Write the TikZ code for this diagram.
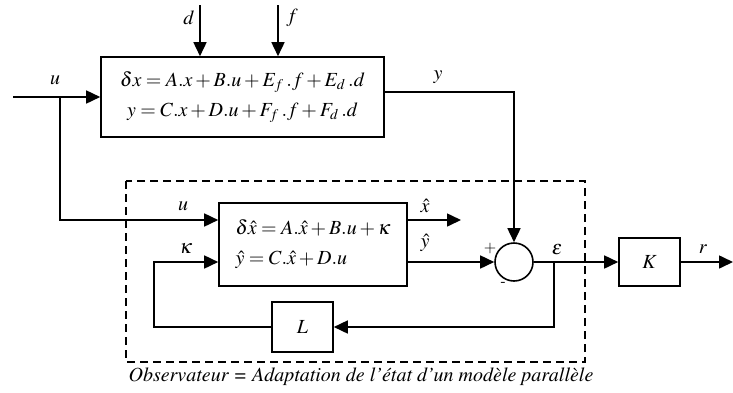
\documentclass[tikz,border=0pt]{standalone}
\usepackage[T1]{fontenc}
\usepackage{mathptmx}
\usepackage{amsmath}
\usetikzlibrary{arrows.meta,positioning,calc}

\begin{document}
\begin{tikzpicture}[x=0.5pt,y=-0.5pt,line width=0.8pt,
  >={Triangle[length=7pt,width=6.5pt]},
  bloc/.style={draw,inner sep=0pt},
  obsframe/.style={dashed,dash pattern=on 4pt off 2.5pt}]
  \useasboundingbox (0,0) rectangle (733,392);
  % systeme
  \node[bloc,minimum width=141.5pt,minimum height=40pt,align=center] (sys) at (242.5,97)
    {$\delta x = A.x + B.u + E_f\,.f + E_d\,.d$\\[3pt]$y = C.x + D.u + F_f\,.f + F_d\,.d$};
  \node[bloc,minimum width=94pt,minimum height=41.5pt,align=left] (obs) at (313,244.5)
    {$\delta\hat{x} = A.\hat{x} + B.u + \kappa$\\[3pt]$\hat{y} = C.\hat{x} + D.u$};
  \node[bloc,minimum width=30.5pt,minimum height=25pt] (gL) at (302.5,327) {$L$};
  \node[bloc,minimum width=30.5pt,minimum height=24pt] (gK) at (649.5,262) {$K$};
  \node[draw,circle,minimum size=19pt,inner sep=0pt] (sum) at (514,262) {};
  \coordinate (d) at (200,5);
  \coordinate (f) at (278,5);
  \coordinate (uin) at (13,97);
  \coordinate (ub) at (60,97);
  \coordinate (kturn) at (154,327);
  \coordinate (eb) at (554,262);
  \coordinate (xhat) at (461,220);
  \coordinate (r) at (733,262);
  \draw[arrows=->] (d) -- (sys.north -| d);
  \draw[arrows=->] (f) -- (sys.north -| f);
  \draw[arrows=->] (uin) -- (sys.west);
  \draw[arrows=->] (ub) |- ([yshift=12.25pt]obs.west);
  \draw[arrows=->] ([yshift=2.5pt]sys.east) -| (sum.north);
  \draw[arrows=->] ([yshift=12.25pt]obs.east) -- (xhat);
  \draw[arrows=->] (obs.east |- sum) -- (sum);
  \draw[arrows=->] (sum) -- (gK);
  \draw[arrows=->] (gK) -- (r);
  \draw[arrows=->] (eb) |- (gL.east);
  \draw[arrows=->] (gL.west) -- (kturn) |- (obs.west |- sum);
  \draw[obsframe] (126,181) rectangle (585,362);
  % etiquettes
  \node at (189,18) {$d$};
  \node at (292,18) {$f$};
  \node at (55,80) {$u$};
  \node at (438,77) {$y$};
  \node at (183,206) {$u$};
  \node at (186,248) {$\kappa$};
  \node at (425,206) {$\hat{x}$};
  \node at (425,243) {$\hat{y}$};
  \node at (490,248) {\footnotesize$+$};
  \node at (503,284) {\footnotesize -};
  \node at (557,250) {$\varepsilon$};
  \node at (703,249) {$r$};
  \node at (361,377) {\textit{Observateur = Adaptation de l'\'etat d'un mod\`ele parall\`ele}};
\end{tikzpicture}
\end{document}
